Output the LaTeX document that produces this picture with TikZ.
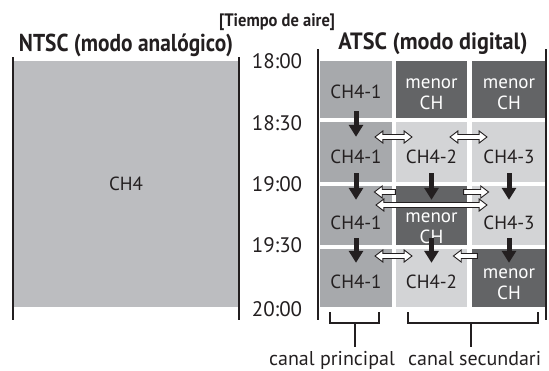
\documentclass[tikz,border=0pt]{standalone}
\usepackage{fontspec}
\setmainfont{PT Sans}
\usetikzlibrary{shapes.arrows,arrows.meta}
\definecolor{ink}{HTML}{231F20}
\definecolor{ntscgray}{HTML}{BCBDC0}
\definecolor{maingray}{HTML}{A7A9AC}
\definecolor{lightgray}{HTML}{D3D4D6}
\definecolor{darkgray}{HTML}{636466}
\begin{document}
\begin{tikzpicture}[x=1pt,y=-1pt,
  cellbox/.style={rectangle, draw=none, inner sep=0pt},
  celltext/.style={inner sep=0pt, font=\fontsize{19}{21}\selectfont, text=#1, align=center},
  celltext/.default=ink,
  bottomtext/.style={inner sep=0pt, font=\fontsize{20}{22}\selectfont, text=ink},
  timelabel/.style={inner sep=0pt, font=\fontsize{21}{22}\selectfont, text=ink},
  titletext/.style={inner sep=0pt, font=\bfseries\fontsize{20}{22}\selectfont, text=ink},
  bar/.style={draw=ink, line width=2.6pt},
  bracket/.style={draw=ink, line width=2.3pt},
  blackarrow/.style={draw=ink, line width=5pt, -{Triangle[width=14pt,length=12pt]}},
  whitedouble/.style={double arrow, draw=ink, fill=white, line width=0.9pt, inner sep=0pt,
     text height=4pt, text depth=0pt, minimum width=12pt, double arrow head extend=3.5pt,
     double arrow tip angle=75, minimum height=#1},
  whitesingle/.style={single arrow, draw=ink, fill=white, line width=0.9pt, inner sep=0pt,
     text height=4pt, text depth=0pt, minimum width=12pt, single arrow head extend=3.5pt,
     single arrow tip angle=75, minimum height=#1}
]
\useasboundingbox (0,0) rectangle (549,370);
% titles
\node[titletext] (airtime) at (277,22) {\resizebox*{116pt}{17pt}{[Tiempo de aire]}};
\node[titletext] (ntsc) at (126,45) {\resizebox*{214pt}{23pt}{NTSC (modo analógico)}};
\node[titletext] (atsc) at (433,44) {\resizebox*{189pt}{22pt}{ATSC (modo digital)}};
% NTSC panel
\node[cellbox, fill=ntscgray, minimum width=226pt, minimum height=246pt] (ntscbox) at (126,184) {};
\node[celltext] (ch4) at (ntscbox.center) {CH4};
\coordinate (nl1) at (13,57); \coordinate (nl2) at (13,320);
\coordinate (nr1) at (239,57); \coordinate (nr2) at (239,320);
\draw[bar] (nl1) -- (nl2);
\draw[bar] (nr1) -- (nr2);
% times
\node[timelabel] (t1800) at (277,61) {18:00};
\node[timelabel] (t1830) at (277,123) {18:30};
\node[timelabel] (t1900) at (277,184) {19:00};
\node[timelabel] (t1930) at (277,245) {19:30};
\node[timelabel] (t2000) at (277,309) {20:00};
% ATSC cells
\node[cellbox, fill=maingray, minimum width=72pt, minimum height=57pt] (c11) at (356,89.5) {};
\node[cellbox, fill=darkgray, minimum width=71pt, minimum height=57pt] (c12) at (431.5,89.5) {};
\node[cellbox, fill=darkgray, minimum width=74pt, minimum height=57pt] (c13) at (509,89.5) {};
\node[cellbox, fill=maingray, minimum width=72pt, minimum height=60pt] (c21) at (356,152) {};
\node[cellbox, fill=lightgray, minimum width=71pt, minimum height=60pt] (c22) at (431.5,152) {};
\node[cellbox, fill=lightgray, minimum width=74pt, minimum height=60pt] (c23) at (509,152) {};
\node[cellbox, fill=maingray, minimum width=72pt, minimum height=59pt] (c31) at (356,215.5) {};
\node[cellbox, fill=darkgray, minimum width=71pt, minimum height=59pt] (c32) at (431.5,215.5) {};
\node[cellbox, fill=lightgray, minimum width=74pt, minimum height=59pt] (c33) at (509,215.5) {};
\node[cellbox, fill=maingray, minimum width=72pt, minimum height=58pt] (c41) at (356,278) {};
\node[cellbox, fill=lightgray, minimum width=71pt, minimum height=58pt] (c42) at (431.5,278) {};
\node[cellbox, fill=darkgray, minimum width=74pt, minimum height=58pt] (c43) at (509,278) {};
% cell texts
\node[celltext] (l11) at (356,92) {CH4-1};
\node[celltext=white] (l12) at (431.5,94) {menor\\CH};
\node[celltext=white] (l13) at (509,94) {menor\\CH};
\node[celltext] (l21) at (356,157) {CH4-1};
\node[celltext] (l22) at (431.5,157) {CH4-2};
\node[celltext] (l23) at (509,157) {CH4-3};
\node[celltext] (l31) at (356,223) {CH4-1};
\node[celltext=white] (l32) at (431.5,228) {menor\\CH};
\node[celltext] (l33) at (509,223) {CH4-3};
\node[celltext] (l41) at (356,282) {CH4-1};
\node[celltext] (l42) at (431.5,282) {CH4-2};
\node[celltext=white] (l43) at (509,284) {menor\\CH};
% ATSC frame
\coordinate (al1) at (318,49); \coordinate (al2) at (318,320);
\coordinate (ar1) at (546,49); \coordinate (ar2) at (546,320);
\draw[bar] (al1) -- (al2);
\draw[bar] (ar1) -- (ar2);
% black arrows
\draw[blackarrow] ([yshift=7pt]c11.south) -- ([yshift=-15pt]c21.north);
\draw[blackarrow] ([yshift=9pt]c21.south) -- ([yshift=-14pt]c31.north);
\draw[blackarrow] ([yshift=9pt]c22.south) -- ([yshift=-14pt]c32.north);
\draw[blackarrow] ([yshift=9pt]c23.south) -- ([yshift=-14pt]c33.north);
\draw[blackarrow] ([yshift=7pt]c31.south) -- ([yshift=-14pt]c41.north);
\draw[blackarrow] ([yshift=7pt]c32.south) -- ([yshift=-14pt]c42.north);
\draw[blackarrow] ([yshift=7pt]c33.south) -- ([yshift=-14pt]c43.north);
% white arrows
\node[whitedouble=37pt] (w1) at (393.5,137) {};
\node[whitedouble=37pt] (w2) at (468.5,137) {};
\node[whitesingle=21pt, shape border rotate=180] (w3) at (386.5,192) {};
\node[whitesingle=25pt] (w4) at (474.5,192) {};
\node[whitedouble=111pt] (w5) at (431.5,205) {};
\node[whitedouble=37pt] (w6) at (393.5,256) {};
\node[whitesingle=24pt, shape border rotate=180] (w7) at (467,256) {};
% brackets
\coordinate (b1a) at (330,312); \coordinate (b1b) at (330,323);
\coordinate (b1c) at (379,323); \coordinate (b1d) at (379,312);
\coordinate (b1s) at (355,323); \coordinate (b1e) at (355,347);
\draw[bracket] (b1a) -- (b1b) -- (b1c) -- (b1d);
\draw[bracket] (b1s) -- (b1e);
\coordinate (b2a) at (408,312); \coordinate (b2b) at (408,323);
\coordinate (b2c) at (538,323); \coordinate (b2d) at (538,312);
\coordinate (b2s) at (471,323); \coordinate (b2e) at (471,347);
\draw[bracket] (b2a) -- (b2b) -- (b2c) -- (b2d);
\draw[bracket] (b2s) -- (b2e);
\node[bottomtext, anchor=base] (main) at (332,365) {canal principal};
\node[bottomtext, anchor=base west] (sub) at (408,365) {canal secundari};
\end{tikzpicture}
\end{document}
